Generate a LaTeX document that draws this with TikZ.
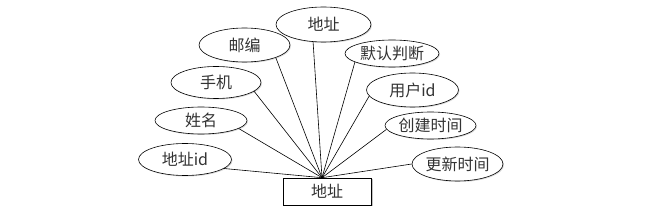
\documentclass[tikz,border=0pt]{standalone}
\usepackage{fontspec}
\setmainfont{Noto Sans CJK SC}
\usetikzlibrary{shapes.geometric,shadows}
\tikzset{
  attr/.style={ellipse, draw=black, line width=0.6pt, fill=white, inner sep=0pt,
    font=\fontsize{16}{18}\selectfont, text=black!80,
    drop shadow={shadow xshift=1pt, shadow yshift=-1pt, fill=black!25, opacity=0.6}},
  ent/.style={rectangle, draw=black, line width=0.6pt, fill=white, inner sep=0pt,
    minimum width=88pt, minimum height=27pt, font=\fontsize{16}{18}\selectfont, text=black!80,
    drop shadow={shadow xshift=1.5pt, shadow yshift=-1.5pt, fill=black!35, opacity=0.7}},
  link/.style={draw=black, line width=0.6pt}
}
\begin{document}
\begin{tikzpicture}[x=1pt,y=-1pt]
\useasboundingbox (0,0) rectangle (661,224);
\node[ent] (rect) at (327,191.5) {地址};
\coordinate (hub) at ([xshift=-5pt]rect.north);
\node[attr, minimum width=93pt, minimum height=32pt] (a1) at (185,159.5) {地址id};
\node[attr, minimum width=92pt, minimum height=27pt] (a2) at (201,120.5) {姓名};
\node[attr, minimum width=90pt, minimum height=32pt] (a3) at (216,82.5) {手机};
\node[attr, minimum width=91pt, minimum height=34pt] (a4) at (244.5,45) {邮编};
\node[attr, minimum width=95pt, minimum height=35pt] (a5) at (323.5,24.5) {地址};
\node[attr, minimum width=94pt, minimum height=27pt] (a6) at (392,53.5) {默认判断};
\node[attr, minimum width=92pt, minimum height=34pt] (a7) at (412.5,90) {用户id};
\node[attr, minimum width=91pt, minimum height=27pt] (a8) at (430.5,125.5) {创建时间};
\node[attr, minimum width=91pt, minimum height=34pt] (a9) at (457.5,164) {更新时间};
\draw[link] (a1.-13) -- (hub);
\draw[link] (a2.-12) -- (hub);
\draw[link] (a3.-13) -- (hub);
\draw[link] (a4.-22) -- (hub);
\draw[link] (a5.-121) -- (hub);
\draw[link] (a6.-167) -- (hub);
\draw[link] (a7.-172) -- (hub);
\draw[link] (a8.-175) -- (hub);
\draw[link] (a9.180) -- (hub);
\end{tikzpicture}
\end{document}
